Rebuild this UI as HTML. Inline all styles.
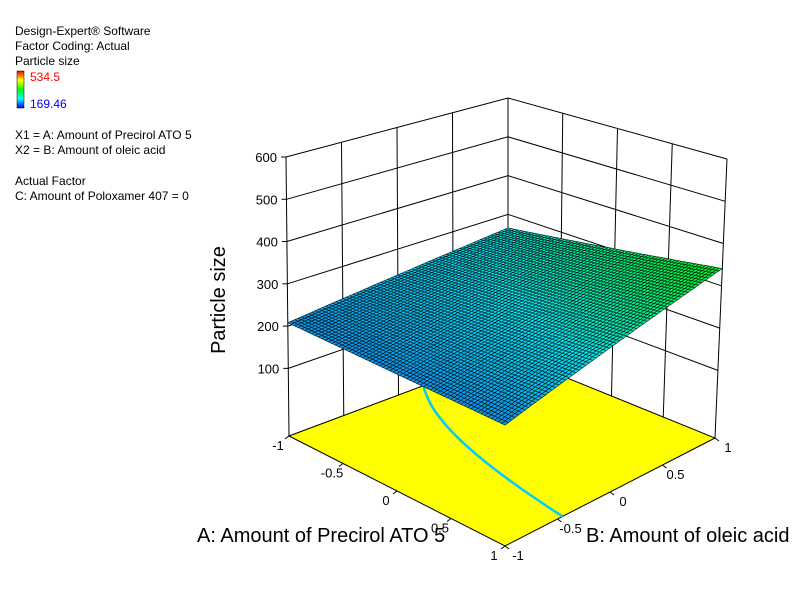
<!DOCTYPE html>
<html><head><meta charset="utf-8"><style>
html,body{margin:0;padding:0;background:#fff;}
svg{display:block;font-family:"Liberation Sans",Arial,sans-serif;}
</style></head><body>
<svg id="chart" width="808" height="605" viewBox="0 0 808 605">
<g font-size="12" fill="#000">
<text x="15" y="35">Design-Expert® Software</text>
<text x="15" y="50">Factor Coding: Actual</text>
<text x="15" y="65">Particle size</text>
<defs><linearGradient id="lg" x1="0" y1="0" x2="0" y2="1">
<stop offset="0" stop-color="#ff0000"/><stop offset="0.25" stop-color="#ffff00"/><stop offset="0.5" stop-color="#00ff00"/><stop offset="0.75" stop-color="#00ffff"/><stop offset="1" stop-color="#0000ff"/></linearGradient></defs>
<rect x="17" y="71" width="7" height="37" fill="url(#lg)" stroke="#000" stroke-width="0.5"/>
<text x="30" y="81" fill="#ff0000">534.5</text>
<text x="30" y="108" fill="#0000ff">169.46</text>
<text x="15" y="139">X1 = A: Amount of Precirol ATO 5</text>
<text x="15" y="154">X2 = B: Amount of oleic acid</text>
<text x="15" y="185">Actual Factor</text>
<text x="15" y="200">C: Amount of Poloxamer 407 = 0</text>
</g>
<g id="plot"></g>
<text x="0" y="0" font-size="20" transform="translate(225,300) rotate(-90)" text-anchor="middle">Particle size</text>
<text x="197" y="542" font-size="20">A: Amount of Precirol ATO 5</text>
<text x="586" y="542" font-size="20">B: Amount of oleic acid</text>
</svg>
<script>
// data
const zTicks = [100, 200, 300, 400, 500, 600];
const aTicks = [-1, -0.5, 0, 0.5, 1];
const bTicks = [-1, -0.5, 0, 0.5, 1];
const aTickLabels = ["-1", "-0.5", "0", "0.5", "1"];
const bTickLabels = ["-1", "-0.5", "0", "0.5", "1"];
// surface corner values: [A=-1,B=-1], [A=1,B=-1], [A=-1,B=1], [A=1,B=1]
const cornerValues = [208, 206, 265, 341];
const contourLevels = [243];
const colorMin = 169.46, colorMax = 534.5;

const zMin = -60, zMax = 600;
const NS = "http://www.w3.org/2000/svg";
const plot = document.getElementById('plot');
const FL = {L:[289,436], F:[505,546], K:[508,354], R:[715,438]};
const TP = {L:[286,157], F:[505,246], K:[508,98], R:[727,159]};
function bil(c, s, r) {
  const x = c.L[0]*(1-s)*(1-r) + c.F[0]*s*(1-r) + c.K[0]*(1-s)*r + c.R[0]*s*r;
  const y = c.L[1]*(1-s)*(1-r) + c.F[1]*s*(1-r) + c.K[1]*(1-s)*r + c.R[1]*s*r;
  return [x, y];
}
function P(a, b, z) {
  const s = (a+1)/2, r = (b+1)/2, w = (z-zMin)/(zMax-zMin);
  const f = bil(FL, s, r), t = bil(TP, s, r);
  return [f[0]+(t[0]-f[0])*w, f[1]+(t[1]-f[1])*w];
}
function model(a, b) {
  const s=(a+1)/2, r=(b+1)/2;
  return cornerValues[0]*(1-s)*(1-r)+cornerValues[1]*s*(1-r)+cornerValues[2]*(1-s)*r+cornerValues[3]*s*r;
}
function color(z) {
  let t = (z-colorMin)/(colorMax-colorMin); t = Math.max(0, Math.min(1, t));
  const st = [[0,[20,90,230]],[0.25,[0,230,240]],[0.5,[0,255,0]],[0.75,[255,255,0]],[1,[255,0,0]]];
  for (let i=0;i<st.length-1;i++){
    if (t<=st[i+1][0]){const u=(t-st[i][0])/(st[i+1][0]-st[i][0]);
      const c=st[i][1].map((v,k)=>Math.round(v+(st[i+1][1][k]-v)*u));
      return `rgb(${c[0]},${c[1]},${c[2]})`;}
  }
  return 'rgb(255,0,0)';
}
function mk(tag, attrs, parent) {
  const e = document.createElementNS(NS, tag);
  for (const k in attrs) e.setAttribute(k, attrs[k]);
  (parent||plot).appendChild(e);
  return e;
}
function pts(arr){return arr.map(p=>p[0].toFixed(1)+','+p[1].toFixed(1)).join(' ');}
const ln = {stroke:'#000','stroke-width':1,fill:'none'};

const walls = mk('g', {});


zTicks.forEach(z => {
  const l = mk('polyline', Object.assign({points: pts([P(-1,-1,z),P(-1,1,z),P(1,1,z)])}, ln), walls);
  
  
});
bTicks.forEach(b => {
  const l = mk('line', Object.assign({x1:P(-1,b,zMin)[0],y1:P(-1,b,zMin)[1],x2:P(-1,b,zMax)[0],y2:P(-1,b,zMax)[1]}, ln), walls);
  
  
});
aTicks.forEach(a => {
  const l = mk('line', Object.assign({x1:P(a,1,zMin)[0],y1:P(a,1,zMin)[1],x2:P(a,1,zMax)[0],y2:P(a,1,zMax)[1]}, ln), walls);
  
  
});
const floor = mk('polygon', {points: pts([P(-1,-1,zMin),P(1,-1,zMin),P(1,1,zMin),P(-1,1,zMin)]), fill:'#ffff00', stroke:'#000','stroke-width':1});


contourLevels.forEach(lv => {
  const cp = [];
  for (let i=0;i<=60;i++){
    const a = -1 + 2*i/60;
    const z0 = model(a,-1), z1 = model(a,1);
    if ((lv-z0)*(lv-z1) <= 0 && z1 !== z0) {
      const b = -1 + 2*(lv-z0)/(z1-z0);
      cp.push(P(a,b,zMin));
    }
  }
  const c = mk('polyline', {points: pts(cp), fill:'none', stroke:'#00ccff','stroke-width':2.5});
  
  
});
const axes = mk('g', {'font-size':13, fill:'#000'});


zTicks.forEach(z => {
  const p = P(-1,-1,z);
  mk('line', Object.assign({x1:p[0]-5,y1:p[1],x2:p[0],y2:p[1]}, ln), axes);
  const t = mk('text', {x:p[0]-9, y:p[1]+5, 'text-anchor':'end'}, axes);
  t.textContent = z;
  
  
});
aTicks.forEach((a,i) => {
  const p = P(a,-1,zMin);
  mk('line', Object.assign({x1:p[0],y1:p[1],x2:p[0]-4,y2:p[1]+3}, ln), axes);
  const t = mk('text', {x:p[0]-11, y:p[1]+14, 'text-anchor':'middle'}, axes);
  t.textContent = aTickLabels[i];
  
  
});
bTicks.forEach((b,i) => {
  const p = P(1,b,zMin);
  mk('line', Object.assign({x1:p[0],y1:p[1],x2:p[0]+4,y2:p[1]+3}, ln), axes);
  const t = mk('text', {x:p[0]+13, y:p[1]+14, 'text-anchor':'middle'}, axes);
  t.textContent = bTickLabels[i];
  
  
});
const surf = mk('g', {stroke:'#000','stroke-width':0.6,'stroke-opacity':0.85});


const N = 64, cells = [];
for (let i=0;i<N;i++) for (let j=0;j<N;j++) cells.push([i,j]);
cells.sort((p,q)=>(p[0]-p[1])-(q[0]-q[1]));
cells.forEach(([i,j]) => {
  const a0=-1+2*i/N, a1=-1+2*(i+1)/N, b0=-1+2*j/N, b1=-1+2*(j+1)/N;
  const zc = model((a0+a1)/2,(b0+b1)/2);
  const c = mk('polygon', {points: pts([P(a0,b0,model(a0,b0)),P(a1,b0,model(a1,b0)),P(a1,b1,model(a1,b1)),P(a0,b1,model(a0,b1))]), fill: color(zc)}, surf);
  
  
});
</script>
</body></html>
